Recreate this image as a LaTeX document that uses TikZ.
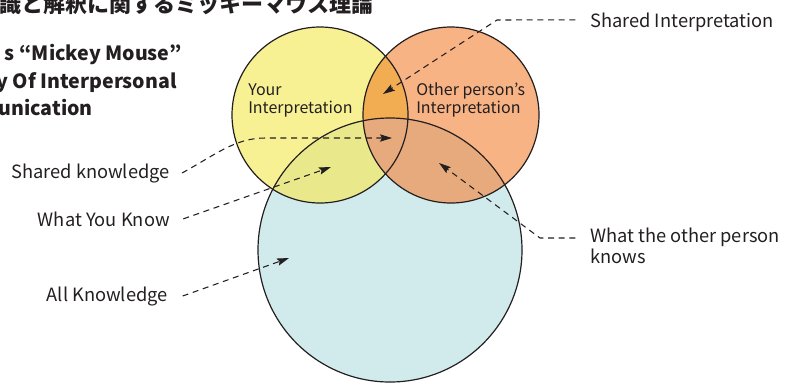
\documentclass[tikz,border=0pt]{standalone}
\usepackage{fontspec}
\setmainfont{Noto Sans CJK JP}
\usetikzlibrary{arrows.meta}
\definecolor{ink}{HTML}{231F20}
\definecolor{yel}{HTML}{F7F193}
\definecolor{ora}{HTML}{F8B384}
\definecolor{blu}{HTML}{D1EBEC}
\definecolor{yelblu}{HTML}{E9E98C}
\definecolor{orablu}{HTML}{E6AA7C}
\definecolor{yelora}{HTML}{F2AD52}
\tikzset{
  lbl/.style={font=\fontsize{13.7}{13.5}\selectfont, text=ink, inner sep=0pt, align=left},
  inlbl/.style={font=\fontsize{12}{13.5}\selectfont, text=ink, inner sep=0pt, align=left},
  ttl/.style={font=\fontsize{14.7}{21}\selectfont\bfseries, text=ink, inner sep=0pt},
  pointer/.style={ink, line width=0.8pt, dash pattern=on 4.5pt off 3.5pt,
    -{Stealth[length=9pt,width=5.5pt,inset=1.5pt]}},
  ring/.style={ink, line width=0.9pt},
}
\begin{document}
\begin{tikzpicture}[x=0.75pt,y=-0.75pt]
\useasboundingbox (0,0) rectangle (787,383);
% circles
\coordinate (you) at (320,115);
\coordinate (other) at (451,115);
\coordinate (all) at (390,250);
\fill[blu] (all) circle[radius=99pt];
\fill[yel] (you) circle[radius=66pt];
\fill[ora] (other) circle[radius=66pt];
\begin{scope}
  \clip (you) circle[radius=66pt];
  \fill[yelblu] (all) circle[radius=99pt];
  \fill[yelora] (other) circle[radius=66pt];
\end{scope}
\begin{scope}
  \clip (other) circle[radius=66pt];
  \fill[orablu] (all) circle[radius=99pt];
\end{scope}
\draw[ring] (all) circle[radius=99pt];
\draw[ring] (you) circle[radius=66pt];
\draw[ring] (other) circle[radius=66pt];
% titles
\node[ttl, font=\fontsize{16.5}{21}\selectfont\bfseries, anchor=base east] (jtitle) at (374,12) {識と解釈に関するミッキーマウス理論};
\node[ttl, anchor=base east] (t1) at (182,60) {s “Mickey Mouse”};
\node[ttl, anchor=base east] (t2) at (177,88) {y Of Interpersonal};
\node[ttl, anchor=base east] (t3) at (93,115) {unication};
% circle texts
\node[inlbl, anchor=base west] (yourint) at (248,113) {Your\\Interpretation};
\node[inlbl, anchor=base west] (otherint) at (416,113) {Other person’s\\Interpretation};
% labels
\node[lbl, anchor=base west] (si) at (590,27) {Shared Interpretation};
\node[lbl, anchor=base east] (sk) at (170,178) {Shared knowledge};
\node[lbl, anchor=base east] (wyk) at (170,226) {What You Know};
\node[lbl, anchor=base east] (ak) at (168,301) {All Knowledge};
\node[lbl, anchor=base west] (wok) at (590,263) {What the other person\\knows};
% pointers
\coordinate (siBend) at (497,20);
\coordinate (siTip) at (383,94);
\coordinate (skBend) at (265,138);
\coordinate (skTip) at (392,138);
\coordinate (wykTip) at (331,167);
\coordinate (akTip) at (289,258);
\coordinate (wokBend) at (540,238);
\coordinate (wokTip) at (439,163);
\draw[pointer] ([xshift=-11pt,yshift=1.5pt]si.west) -- (siBend) -- (siTip);
\draw[pointer] ([xshift=9pt]sk.east) .. controls (215,155) and (235,138) .. (skBend) -- (skTip);
\draw[pointer] ([xshift=10pt]wyk.east) -- (wykTip);
\draw[pointer] ([xshift=11pt]ak.east) -- (akTip);
\draw[pointer] ([xshift=-11pt]wok.north west |- wokBend) -- (wokBend) -- (wokTip);
\end{tikzpicture}
\end{document}
